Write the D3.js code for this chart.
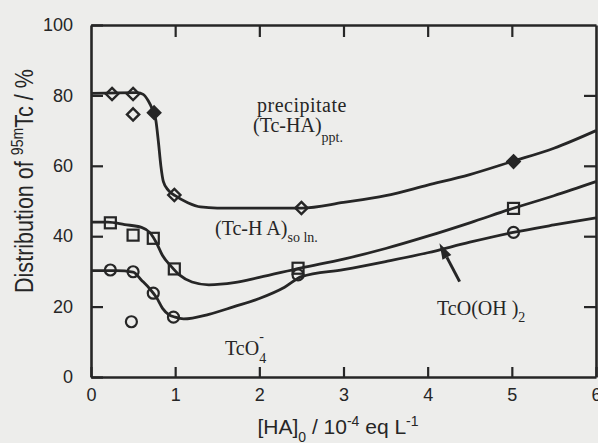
<!DOCTYPE html>
<html>
<head>
<meta charset="utf-8">
<script src="https://cdn.jsdelivr.net/npm/d3@7"></script>
<style>
  html, body { margin: 0; padding: 0; background: #ededeb; }
  svg { display: block; }
</style>
</head>
<body>
<svg id="chart" width="598" height="443"></svg>
<script>
// valeurs
const xTicks = [0, 1, 2, 3, 4, 5, 6];
const yTicks = [0, 20, 40, 60, 80, 100];

// précipité (Tc-HA)ppt : losanges
const pptOpen = [[0.25, 80.4], [0.5, 80.4], [0.5, 74.6], [0.99, 51.7], [2.5, 48]];
const pptFilled = [[0.75, 75.1], [5.02, 61.2]];
const pptCurve = [[0, 80.6], [0.55, 80.8], [0.62, 80.3], [0.68, 78.5], [0.73, 76], [0.77, 73],
  [0.8, 67], [0.83, 60], [0.86, 55.5], [0.92, 53], [1.0, 51.5], [1.15, 49.5], [1.3, 48.3],
  [1.5, 48], [2.5, 48], [3.0, 49.6], [3.5, 51.5], [4.0, 54.5], [4.5, 57.5], [5.0, 61.2],
  [5.5, 65], [6.0, 70]];

// (Tc-HA)soln : carrés
const solnPts = [[0.23, 43.8], [0.5, 40.3], [0.74, 39.4], [0.99, 30.7], [2.46, 30.9], [5.02, 47.9]];
const solnCurve = [[0, 44], [0.2, 44], [0.4, 43.3], [0.6, 42.5], [0.7, 41], [0.78, 38],
  [0.85, 34.5], [0.95, 31.5], [1.05, 29], [1.2, 27], [1.4, 26.2], [1.7, 26.8], [2.0, 28.3],
  [2.5, 31], [3.0, 33.5], [3.5, 36.5], [4.0, 40], [4.5, 43.8], [5.0, 47.8], [5.5, 51.5],
  [6.0, 55.5]];

// TcO4- : cercles
const tco4Pts = [[0.23, 30.4], [0.5, 29.9], [0.74, 23.8], [0.98, 17.0], [0.48, 15.7], [2.46, 29], [5.02, 41.1]];
const tco4Curve = [[0, 30.2], [0.3, 30.2], [0.5, 29.8], [0.6, 27.5], [0.7, 25], [0.78, 22.5],
  [0.85, 19.5], [0.92, 17.8], [1.0, 17], [1.1, 16.5], [1.4, 17.8], [1.7, 20], [2.0, 22.3],
  [2.3, 25.5], [2.5, 28.5], [3.0, 30.5], [3.5, 32.8], [4.0, 35.3], [4.5, 38.3], [5.0, 41],
  [5.5, 43.2], [6.0, 45.2]];

// flèche TcO(OH)2 : [queue, pointe]
const arrowPts = [[4.38, 27.1], [4.14, 38]];

const ink = "#262626";
const sans = "'Liberation Sans', Arial, sans-serif";
const serif = "'Liberation Serif', 'Times New Roman', serif";

const svg = d3.select("#chart");
const margin = { top: 25, right: 2, bottom: 66, left: 91 },
  width = 598 - margin.left - margin.right,
  height = 443 - margin.top - margin.bottom;

const x = d3.scaleLinear().domain([0, 6]).range([0, width]);
const y = d3.scaleLinear().domain([0, 100]).range([height, 0]);

const g = svg.append("g")
  .attr("transform", `translate(${margin.left},${margin.top})`);

// axes (graduations vers l'intérieur)
const styleAxis = sel => {
  sel.selectAll("path, line").attr("stroke", ink);
  sel.select(".domain").attr("stroke-width", 2.6);
  sel.selectAll(".tick line").attr("stroke-width", 2.2);
  sel.selectAll("text")
    .attr("fill", ink)
    .style("font-family", sans)
    .style("font-size", "18px");
};

g.append("g")
  .attr("transform", `translate(0,${height})`)
  .call(d3.axisBottom(x).tickValues(xTicks).tickSize(-10).tickSizeOuter(0).tickPadding(11).tickFormat(d3.format("d")))
  .call(styleAxis);

g.append("g")
  .call(d3.axisTop(x).tickValues(xTicks.slice(1, -1)).tickSize(-12).tickSizeOuter(0).tickFormat(""))
  .call(styleAxis);

g.append("g")
  .call(d3.axisLeft(y).tickValues(yTicks).tickSize(-12).tickSizeOuter(0).tickPadding(18).tickFormat(d3.format("d")))
  .call(styleAxis);

g.append("g")
  .attr("transform", `translate(${width},0)`)
  .call(d3.axisRight(y).tickValues(yTicks.slice(1, -1)).tickSize(-12).tickSizeOuter(0).tickFormat(""))
  .call(styleAxis);

g.selectAll(".domain").attr("fill", "none");

// courbes
const line = d3.line()
  .x(d => x(d[0]))
  .y(d => y(d[1]))
  .curve(d3.curveMonotoneX);

[pptCurve, solnCurve, tco4Curve].forEach(c => {
  g.append("path")
    .datum(c)
    .attr("d", line)
    .attr("fill", "none")
    .attr("stroke", ink)
    .attr("stroke-width", 2.8)
    .attr("stroke-linejoin", "round");
});

// marqueurs
const diamond = d3.symbol().type(d3.symbolDiamond2).size(95);

g.selectAll(".ppt-open")
  .data(pptOpen)
  .enter()
  .append("path")
  .attr("transform", d => `translate(${x(d[0])},${y(d[1])})`)
  .attr("d", diamond)
  .attr("fill", "none")
  .attr("stroke", ink)
  .attr("stroke-width", 2.4);

g.selectAll(".ppt-filled")
  .data(pptFilled)
  .enter()
  .append("path")
  .attr("transform", d => `translate(${x(d[0])},${y(d[1])})`)
  .attr("d", diamond)
  .attr("fill", ink)
  .attr("stroke", ink)
  .attr("stroke-width", 2.4);

g.selectAll(".soln")
  .data(solnPts)
  .enter()
  .append("rect")
  .attr("x", d => x(d[0]) - 5.5)
  .attr("y", d => y(d[1]) - 5.5)
  .attr("width", 11)
  .attr("height", 11)
  .attr("fill", "none")
  .attr("stroke", ink)
  .attr("stroke-width", 2.2);

g.selectAll(".tco4")
  .data(tco4Pts)
  .enter()
  .append("circle")
  .attr("cx", d => x(d[0]))
  .attr("cy", d => y(d[1]))
  .attr("r", 5.5)
  .attr("fill", "none")
  .attr("stroke", ink)
  .attr("stroke-width", 2.2);

// flèche
const [tail, tip] = arrowPts.map(d => [x(d[0]), y(d[1])]);
const ang = Math.atan2(tip[1] - tail[1], tip[0] - tail[0]);
const headLen = 16, headW = 5;
const bx = tip[0] - headLen * Math.cos(ang), by = tip[1] - headLen * Math.sin(ang);
g.append("line")
  .attr("x1", tail[0]).attr("y1", tail[1])
  .attr("x2", bx).attr("y2", by)
  .attr("stroke", ink)
  .attr("stroke-width", 3);
g.append("path")
  .attr("d", `M${tip[0]},${tip[1]}L${bx + headW * Math.sin(ang)},${by - headW * Math.cos(ang)}L${bx - headW * Math.sin(ang)},${by + headW * Math.cos(ang)}Z`)
  .attr("fill", ink);

// annotations
const label = (px, py, size) => svg.append("text")
  .attr("x", px).attr("y", py)
  .attr("fill", ink)
  .style("font-family", serif)
  .style("font-size", size + "px");

label(257, 112, 20).attr("letter-spacing", 0.5).text("precipitate");

const t1 = label(253, 132, 20);
t1.append("tspan").text("(Tc-HA)");
t1.append("tspan").attr("dy", 10).style("font-size", "14px").text("ppt.");

const t2 = label(215, 235, 20);
t2.append("tspan").text("(Tc-H A)");
t2.append("tspan").attr("dy", 7).style("font-size", "14px").text("so ln.");

const t3 = label(225, 355, 20);
t3.append("tspan").text("TcO");
t3.append("tspan").attr("dy", 8).style("font-size", "14px").text("4");
t3.append("tspan").attr("dx", -7).attr("dy", -22).style("font-size", "14px").text("-");

const t4 = label(437, 315, 20);
t4.append("tspan").text("TcO(OH )");
t4.append("tspan").attr("dy", 7).style("font-size", "14px").text("2");

// titres des axes
const yLab = svg.append("text")
  .attr("transform", "translate(33,181) rotate(-90) scale(0.83,1)")
  .attr("text-anchor", "middle")
  .attr("fill", ink)
  .style("font-family", sans)
  .style("font-size", "26px");
yLab.append("tspan").text("Distribution of ");
yLab.append("tspan").attr("dy", -10).style("font-size", "17px").text("95m");
yLab.append("tspan").attr("dy", 10).text("Tc / %");

const xLab = svg.append("text")
  .attr("x", 338).attr("y", 434)
  .attr("text-anchor", "middle")
  .attr("fill", ink)
  .style("font-family", sans)
  .style("font-size", "21px");
xLab.append("tspan").text("[HA]");
xLab.append("tspan").attr("dy", 8).style("font-size", "14px").text("0");
xLab.append("tspan").attr("dy", -8).text(" / 10");
xLab.append("tspan").attr("dy", -8).style("font-size", "14px").text("-4");
xLab.append("tspan").attr("dy", 8).text(" eq L");
xLab.append("tspan").attr("dy", -8).style("font-size", "14px").text("-1");
</script>
</body>
</html>
